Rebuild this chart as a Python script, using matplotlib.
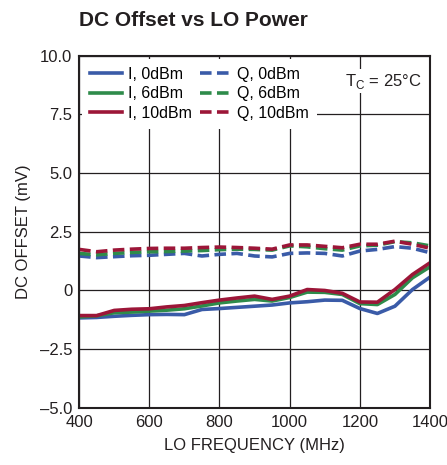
import matplotlib
matplotlib.use('Agg')
import matplotlib.pyplot as plt

plt.rcParams['font.family'] = ['Liberation Sans', 'DejaVu Sans']

# LO frequency (MHz)
freq = [400, 450, 500, 550, 600, 650, 700, 750, 800, 850, 900, 950, 1000,
        1050, 1100, 1150, 1200, 1250, 1300, 1350, 1400]

# I channel DC offset (mV)
i_0dbm = [-1.17, -1.15, -1.10, -1.06, -1.03, -1.02, -1.03, -0.81, -0.77, -0.72, -0.67,
          -0.62, -0.53, -0.48, -0.41, -0.42, -0.77, -0.98, -0.67, 0.04, 0.57]
i_6dbm = [-1.13, -1.08, -0.95, -0.92, -0.88, -0.84, -0.78, -0.66, -0.53, -0.45, -0.38,
          -0.45, -0.30, -0.07, -0.08, -0.17, -0.56, -0.60, -0.17, 0.54, 1.01]
i_10dbm = [-1.07, -1.07, -0.85, -0.80, -0.78, -0.70, -0.64, -0.52, -0.41, -0.32, -0.24,
           -0.38, -0.24, 0.04, 0.00, -0.12, -0.49, -0.50, 0.04, 0.68, 1.18]

# Q channel DC offset (mV)
q_0dbm = [1.47, 1.40, 1.44, 1.48, 1.50, 1.54, 1.58, 1.47, 1.54, 1.58, 1.47,
          1.43, 1.58, 1.60, 1.58, 1.47, 1.68, 1.75, 1.87, 1.80, 1.61]
q_6dbm = [1.58, 1.52, 1.58, 1.62, 1.65, 1.66, 1.68, 1.70, 1.74, 1.76, 1.75,
          1.72, 1.90, 1.86, 1.78, 1.72, 1.90, 1.93, 2.08, 2.03, 1.90]
q_10dbm = [1.75, 1.65, 1.72, 1.76, 1.79, 1.80, 1.80, 1.83, 1.85, 1.83, 1.80,
           1.76, 1.94, 1.94, 1.88, 1.82, 1.97, 1.97, 2.10, 1.97, 1.80]

blue = '#3a5ba8'
green = '#2e8b4a'
red = '#9c1638'
ink = '#231f20'

fig = plt.figure(figsize=(4.47, 4.65), dpi=100)
ax = fig.add_axes([0.177, 0.123, 0.785, 0.757])

lw = 2.6
dash = (0, (3.2, 1.5))
ax.plot(freq, i_0dbm, color=blue, lw=lw, label='I, 0dBm')
ax.plot(freq, i_6dbm, color=green, lw=lw, label='I, 6dBm')
ax.plot(freq, i_10dbm, color=red, lw=lw, label='I, 10dBm')
ax.plot(freq, q_0dbm, color=blue, lw=lw, ls=dash, label='Q, 0dBm')
ax.plot(freq, q_6dbm, color=green, lw=lw, ls=dash, label='Q, 6dBm')
ax.plot(freq, q_10dbm, color=red, lw=lw, ls=dash, label='Q, 10dBm')

ax.set_xlim(400, 1400)
ax.set_ylim(-5, 10)
ax.set_xticks([400, 600, 800, 1000, 1200, 1400])
ax.set_yticks([-5, -2.5, 0, 2.5, 5, 7.5, 10])
ax.set_yticklabels(['\u20135.0', '\u20132.5', '0', '2.5', '5.0', '7.5', '10.0'])
ax.tick_params(length=0, labelsize=12, colors=ink, pad=5)
ax.grid(True, color=ink, lw=0.9)
ax.set_axisbelow(True)
for s in ax.spines.values():
    s.set_linewidth(1.5)
    s.set_color(ink)

ax.set_xlabel('LO FREQUENCY (MHz)', fontsize=12, color=ink, labelpad=6)
ax.set_ylabel('DC OFFSET (mV)', fontsize=12, color=ink, labelpad=6)

leg = ax.legend(loc='upper left', ncol=2, fontsize=11.5, frameon=True, fancybox=False,
                edgecolor='none', facecolor='white', framealpha=1,
                handlelength=2.0, handletextpad=0.35, columnspacing=0.5,
                labelspacing=0.28, borderpad=0.5, borderaxespad=0.2)

ax.text(0.975, 0.955, r'T$_\mathregular{C}$ = 25°C', transform=ax.transAxes, ha='right', va='top',
        fontsize=12, color=ink,
        bbox=dict(facecolor='white', edgecolor='none', pad=2))

fig.text(0.177, 0.955, 'DC Offset vs LO Power', fontsize=15, fontweight='bold',
         color=ink, ha='left', va='center')

fig.savefig('out.png', dpi=100)
